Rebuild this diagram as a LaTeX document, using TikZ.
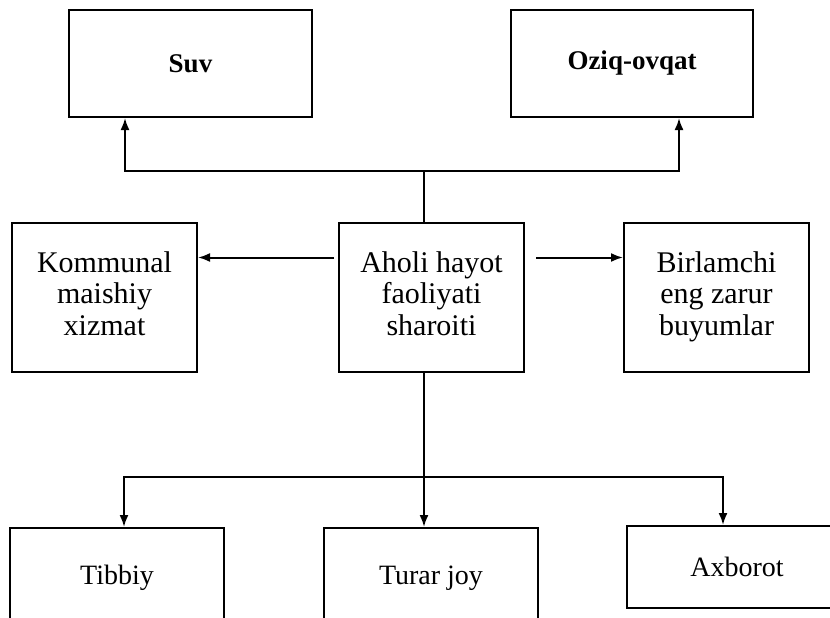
\documentclass[tikz,border=0pt]{standalone}
\usepackage{fontspec}
\setmainfont{Liberation Serif}
\usetikzlibrary{arrows.meta}
\usetikzlibrary{calc}

\tikzset{
  blok/.style={draw, line width=2pt, inner sep=0pt, align=center},
  topblok/.style={blok, minimum width=243pt, minimum height=107pt,
    font=\fontsize{27}{30}\selectfont\bfseries},
  midblok/.style={blok, minimum width=185pt, minimum height=149pt,
    text depth=8pt, font=\fontsize{30}{31.5}\selectfont},
  lowblok/.style={blok, minimum width=214pt, minimum height=100pt,
    font=\fontsize{28}{30}\selectfont},
  arr/.style={-{Latex[length=12pt,width=9pt]}, line width=2pt},
  lin/.style={line width=2pt}
}

\begin{document}
\begin{tikzpicture}[x=1pt,y=-1pt]
  \useasboundingbox (0,0) rectangle (830,618);
  \clip (0,0) rectangle (830,618);

  % --- top row ---
  \node[topblok] (suv) at (190.5,63.5) {Suv};
  \node[topblok, minimum width=242pt] (oziq) at (632,63.5) {Oziq-ovqat};

  % --- middle row ---
  \node[midblok] (kommunal) at (104.5,297.5) {Kommunal\\maishiy\\xizmat};
  \node[midblok] (aholi) at (431.5,297.5) {Aholi hayot\\faoliyati\\sharoiti};
  \node[midblok] (birlamchi) at (716.5,297.5) {Birlamchi\\eng zarur\\buyumlar};

  % --- bottom row ---
  \node[lowblok] (tibbiy) at (117,578) {Tibbiy};
  \node[lowblok] (turar) at (431,578) {Turar joy};
  \node[lowblok, minimum width=220pt, minimum height=82pt] (axborot) at (737,567) {Axborot};

  % branch to the top row
  \coordinate (topjoin) at (424,171);
  \draw[lin] (aholi.north -| topjoin) -- (topjoin);
  \draw[arr] (topjoin) -| ([xshift=57pt]suv.south west);
  \draw[arr] (topjoin) -| ([xshift=169pt]oziq.south west);

  % side arrows
  \draw[arr, shorten <=4pt] ([yshift=40pt]aholi.west) -- ([yshift=40pt]kommunal.east);
  \draw[arr, shorten <=11pt] ([yshift=40pt]aholi.east) -- ([yshift=40pt]birlamchi.west);

  % branch to the bottom row
  \coordinate (botjoin) at (424,477);
  \draw[lin] (aholi.south -| botjoin) -- (botjoin);
  \draw[arr] (botjoin) -- (turar.north -| botjoin);
  \draw[arr] (botjoin) -| ([xshift=7pt]tibbiy.north);
  \draw[arr] (botjoin) -| ([xshift=-14pt]axborot.north);
\end{tikzpicture}
\end{document}
